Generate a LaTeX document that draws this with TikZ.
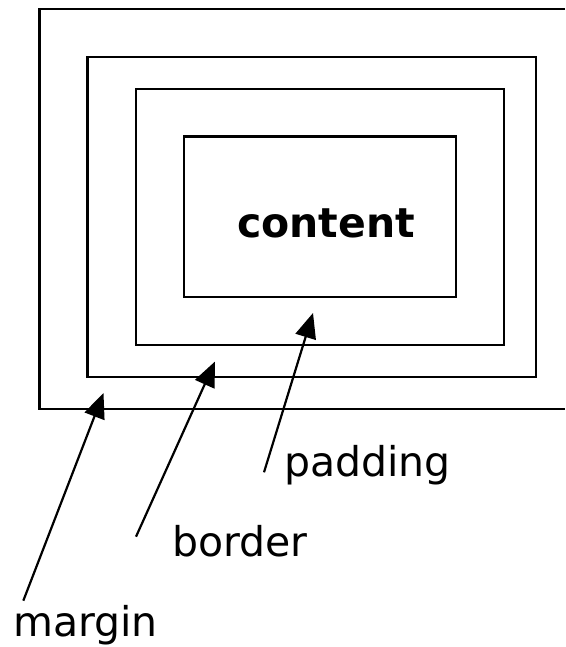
\documentclass[tikz,border=0pt]{standalone}
\usepackage{fontspec}
\setmainfont{DejaVu Sans}
\usetikzlibrary{arrows.meta,positioning}
\tikzset{
    %Define style for boxes
    layer/.style={
           rectangle,
           draw=black, line width=2.4pt,
           inner sep=0pt},
    %Define style for the texts
    tag/.style={
           anchor=base west,
           inner sep=0pt,
           font=\fontsize{41}{49}\selectfont},
    % Define arrow style
    pil/.style={
           -{Triangle[length=25pt,width=21pt]},
           line width=2.2pt}
}
\begin{document}
\begin{tikzpicture}[x=1pt,y=-1pt]
\useasboundingbox (0,0) rectangle (565,647);
 %boxes
\draw[line width=2.4pt] (565,9) -- (39.6,9) -- (39.6,408.7) -- (565,408.7);
\node[layer, minimum width=448.3pt, minimum height=319.7pt](border) at (311.75,217.15){};
\node[layer, minimum width=367.9pt, minimum height=255.7pt](padding) at (319.85,216.85){};
\node[layer, minimum width=272.4pt, minimum height=160pt](content) at (320,216.7){};
\node[tag, anchor=base, font=\fontsize{41}{49}\selectfont\bfseries](contentlbl) at (326,237){content};
 %labels
\node[tag](paddinglbl) at (284,476){padding};
\node[tag](borderlbl) at (172,556.7){border};
\node[tag](marginlbl) at (13,636){margin};
 %arrows
\coordinate (paddingtail) at (264,472.3);
\coordinate (paddingtip) at (313,313);
\coordinate (bordertail) at (136,536.7);
\coordinate (bordertip) at (215,361.5);
\coordinate (margintail) at (23.3,600.7);
\coordinate (margintip) at (103.5,393);
\draw[pil] (paddingtail) -- (paddingtip);
\draw[pil] (bordertail) -- (bordertip);
\draw[pil] (margintail) -- (margintip);
\end{tikzpicture}
\end{document}
